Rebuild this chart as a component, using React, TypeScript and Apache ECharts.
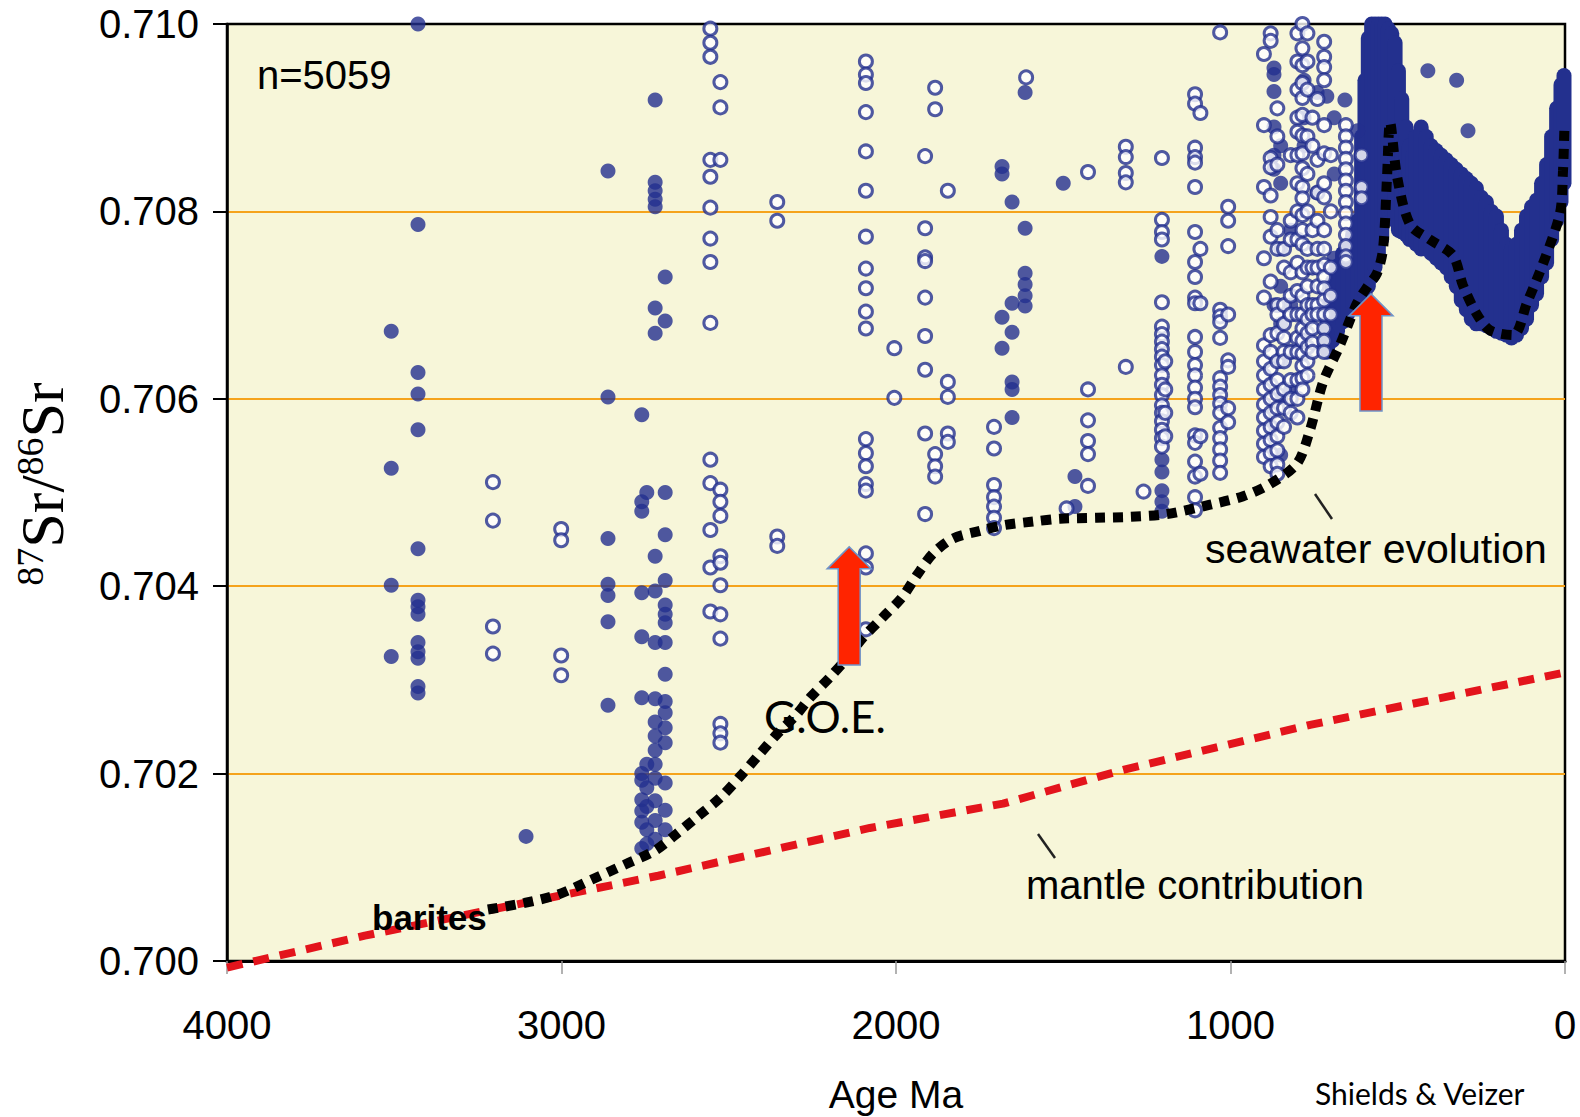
import React, { useEffect, useRef } from "react";
import * as echarts from "echarts";

const NAVY = "#23308E";
const SANS = "Liberation Sans, Arial, sans-serif";

// ---- data (age in Ma, 87Sr/86Sr) ----
const filledColumns: [number, number[]][] = [
  [3509, [0.70672, 0.70526, 0.70401, 0.70325]],
  [3429, [0.71, 0.70786, 0.70628, 0.70605, 0.70567, 0.7044, 0.70385, 0.70378, 0.7037, 0.7034, 0.7033, 0.70323, 0.70293, 0.70286]],
  [3106, [0.70133]],
  [2861, [0.70843, 0.70602, 0.70451, 0.70402, 0.7039, 0.70362, 0.70273]],
  [2760, [0.70583, 0.7049, 0.7048, 0.70393, 0.70346, 0.70281, 0.702, 0.70193, 0.70172, 0.7016, 0.70148, 0.7012]],
  [2745, [0.705, 0.7021, 0.70185, 0.70165, 0.7014, 0.70125]],
  [2720, [0.70919, 0.70831, 0.70822, 0.70813, 0.70805, 0.70697, 0.7067, 0.70432, 0.70395, 0.7034, 0.7028, 0.70255, 0.7024, 0.70225, 0.7021, 0.70195, 0.70171, 0.7015, 0.7013]],
  [2690, [0.7073, 0.70683, 0.705, 0.70455, 0.70406, 0.7038, 0.7037, 0.70361, 0.7034, 0.70306, 0.70277, 0.70265, 0.70249, 0.70233, 0.7019, 0.70161, 0.7014]],
  [1683, [0.70848, 0.7084, 0.70687, 0.70654]],
  [1653, [0.7081, 0.70702, 0.70671, 0.70618, 0.7061, 0.7058]],
  [1614, [0.70927, 0.70782, 0.70734, 0.70722, 0.7071, 0.70699]],
  [1500, [0.7083]],
  [1465, [0.70517, 0.70485]],
  [1205, [0.70752, 0.70535, 0.70522, 0.70502, 0.7049, 0.7048]],
  [880, [0.7057]],
  [870, [0.70953, 0.70946, 0.70928, 0.7089, 0.7086, 0.70845, 0.707]],
  [850, [0.7087, 0.7083, 0.7076, 0.7072, 0.7068, 0.7064, 0.706, 0.7054]],
  [820, [0.7078, 0.707, 0.7065, 0.7061]],
  [780, [0.7094, 0.709, 0.7087]],
  [741, [0.70927, 0.7082]],
  [712, [0.70923, 0.707, 0.7067]],
  [690, [0.709, 0.7084, 0.7075]],
  [658, [0.70919]],
  [620, [0.70886]],
  [610, [0.7086]],
  [410, [0.7095]],
  [324, [0.7094]],
  [290, [0.70886]],
];

const openColumns: [number, number[]][] = [
  [3205, [0.70511, 0.7047, 0.70357, 0.70328]],
  [3001, [0.70461, 0.70449, 0.70326, 0.70305]],
  [2555, [0.70995, 0.7098, 0.70965, 0.70855, 0.70837, 0.70804, 0.70771, 0.70746, 0.70681, 0.70535, 0.7051, 0.7046, 0.7042, 0.70373]],
  [2525, [0.70938, 0.70911, 0.70855, 0.70503, 0.7049, 0.70475, 0.70432, 0.70425, 0.70401, 0.7037, 0.70344, 0.70253, 0.70243, 0.70233]],
  [2355, [0.7081, 0.7079, 0.70453, 0.70443]],
  [2090, [0.7096, 0.70946, 0.70937, 0.70906, 0.70864, 0.70822, 0.70773, 0.70739, 0.70718, 0.70693, 0.70675, 0.70557, 0.70542, 0.70528, 0.70509, 0.70502, 0.70435, 0.7042, 0.70354]],
  [2005, [0.70654, 0.70601]],
  [1913, [0.70859, 0.70782, 0.70751, 0.70747, 0.70708, 0.70667, 0.70631, 0.70563, 0.70477]],
  [1883, [0.70932, 0.70909, 0.70541, 0.70528, 0.70517]],
  [1845, [0.70822, 0.70618, 0.70602, 0.70563, 0.70554]],
  [1707, [0.7057, 0.70547, 0.70508, 0.70495, 0.70485, 0.70473, 0.70462]],
  [1611, [0.70943]],
  [1490, [0.70483]],
  [1426, [0.70842, 0.7061, 0.70577, 0.70555, 0.70541, 0.70507]],
  [1313, [0.70869, 0.70858, 0.70841, 0.70831, 0.70634]],
  [1260, [0.70501]],
  [1205, [0.70857, 0.70791, 0.70778, 0.7077, 0.70703, 0.70677, 0.70669, 0.70661, 0.70653, 0.70645, 0.70636, 0.70625, 0.70615, 0.70604, 0.70593, 0.70585, 0.70576, 0.70567, 0.70558, 0.70549]],
  [1195, [0.7064, 0.7061, 0.70585, 0.7056]],
  [1106, [0.70925, 0.70915, 0.70868, 0.70858, 0.70852, 0.70826, 0.70778, 0.70746, 0.7073, 0.70708, 0.70702, 0.70666, 0.7065, 0.70636, 0.70625, 0.70612, 0.706, 0.70591, 0.70561, 0.70553, 0.70533, 0.70517, 0.70495, 0.70481]],
  [1090, [0.70905, 0.7076, 0.70702, 0.7056, 0.7052]],
  [1031, [0.70991, 0.70695, 0.70688, 0.70682, 0.70665, 0.70622, 0.70613, 0.70604, 0.70595, 0.70585, 0.70569, 0.70558, 0.70546, 0.70534, 0.70521]],
  [1007, [0.70805, 0.7079, 0.70763, 0.7069, 0.70641, 0.70634, 0.7059, 0.70575]],
  [900, [0.70968, 0.70892, 0.70826, 0.7075, 0.70708, 0.70657, 0.7064, 0.70625, 0.7061, 0.70594, 0.7058, 0.70566, 0.70552, 0.70538]],
  [880, [0.7099, 0.70982, 0.70857, 0.70847, 0.70817, 0.70794, 0.70773, 0.70725, 0.70668, 0.7065, 0.70632, 0.70615, 0.706, 0.70585, 0.7057, 0.70556, 0.70542, 0.70528]],
  [860, [0.7091, 0.7088, 0.7085, 0.7078, 0.7076, 0.707, 0.7069, 0.7067, 0.7064, 0.7062, 0.70605, 0.7059, 0.70575, 0.7056, 0.70545, 0.7053, 0.7052]],
  [840, [0.7076, 0.7074, 0.707, 0.7068, 0.70665, 0.7065, 0.7064, 0.7061, 0.7059, 0.7057]],
  [820, [0.7086, 0.7079, 0.7077, 0.70735, 0.7071, 0.7069, 0.7065, 0.7062, 0.706, 0.70585]],
  [800, [0.7099, 0.7096, 0.7093, 0.709, 0.70885, 0.7086, 0.7083, 0.708, 0.7077, 0.70745, 0.70715, 0.7069, 0.70665, 0.7065, 0.7062, 0.706, 0.7058]],
  [785, [0.71, 0.70974, 0.70956, 0.70937, 0.70921, 0.70903, 0.70881, 0.70862, 0.70846, 0.70826, 0.70814, 0.70796, 0.7078, 0.70765, 0.70735, 0.7071, 0.7069, 0.70675, 0.70662, 0.70648, 0.70635, 0.70622, 0.7061]],
  [770, [0.7099, 0.7096, 0.7093, 0.7088, 0.7084, 0.708, 0.7076, 0.7074, 0.7072, 0.707, 0.70685, 0.7067, 0.70655, 0.7064, 0.70625]],
  [755, [0.709, 0.7087, 0.7078, 0.7074, 0.707, 0.7069, 0.70675, 0.7066, 0.7065]],
  [740, [0.7092, 0.70855, 0.7082, 0.7079, 0.7076, 0.7074, 0.7072, 0.707, 0.7069]],
  [720, [0.70981, 0.70965, 0.70954, 0.7094, 0.70892, 0.70862, 0.7083, 0.70815, 0.7078, 0.7076, 0.70743, 0.7073, 0.70718, 0.70705, 0.7069, 0.70675, 0.70662, 0.7065]],
  [700, [0.7086, 0.708, 0.7074, 0.7071, 0.7069]],
  [655, [0.70892, 0.7088, 0.70868, 0.70856, 0.70845, 0.70833, 0.70822, 0.7081, 0.70798, 0.70787, 0.70775, 0.70763, 0.70752, 0.70746]],
  [608, [0.7086, 0.70826, 0.70814]],
];

// dense Phanerozoic cloud of filled symbols: [age, lowest, highest]
const phanerozoicBand: [number, number, number][] = [
  [710, 0.7065, 0.707], [695, 0.70662, 0.70725], [680, 0.70672, 0.70742], [665, 0.70682, 0.70755],
  [650, 0.7069, 0.70765], [635, 0.70698, 0.70775], [620, 0.707, 0.7079], [608, 0.70705, 0.7088],
  [598, 0.70712, 0.7094], [588, 0.7072, 0.70985], [578, 0.7073, 0.71], [568, 0.7074, 0.71],
  [558, 0.7075, 0.71], [548, 0.7077, 0.71], [538, 0.7079, 0.71], [528, 0.708, 0.70995],
  [518, 0.708, 0.7099], [508, 0.7079, 0.7098], [498, 0.7078, 0.7095], [488, 0.70778, 0.7092],
  [475, 0.70775, 0.7089], [465, 0.7077, 0.7087], [455, 0.7077, 0.7086], [445, 0.70765, 0.7088],
  [430, 0.7076, 0.7089], [415, 0.7076, 0.7088], [400, 0.70755, 0.7087], [385, 0.7075, 0.70865],
  [370, 0.70745, 0.7086], [355, 0.7074, 0.70855], [340, 0.7073, 0.7085], [325, 0.7072, 0.70845],
  [310, 0.70705, 0.7084], [295, 0.70695, 0.70835], [280, 0.70685, 0.7083], [265, 0.7068, 0.70825],
  [250, 0.7068, 0.70815], [235, 0.70678, 0.7081], [220, 0.70675, 0.708], [205, 0.70672, 0.70795],
  [190, 0.7067, 0.7078], [175, 0.70668, 0.70765], [160, 0.70665, 0.7076], [145, 0.70668, 0.70765],
  [130, 0.70675, 0.7078], [115, 0.70685, 0.70795], [100, 0.707, 0.70805], [85, 0.70712, 0.70812],
  [70, 0.7073, 0.7083], [55, 0.70745, 0.7085], [40, 0.7077, 0.7088], [25, 0.7079, 0.7091],
  [12, 0.7081, 0.70935], [3, 0.7083, 0.70945],
];

const seawaterAge = [3220, 3110, 3010, 2909, 2810, 2720, 2655, 2590, 2526, 2466, 2410, 2356, 2300, 2257, 2197, 2150, 2099, 2039, 1982, 1937, 1889, 1829, 1749, 1680, 1590, 1510, 1400, 1300, 1190, 1061, 962, 882, 801, 762, 723, 673, 622, 590, 562, 544, 532, 523, 502, 463, 404, 335, 305, 263, 224, 155, 114, 66, 15, 6, 2];
const seawaterRatio = [0.70055, 0.70062, 0.70071, 0.70087, 0.70103, 0.70118, 0.70136, 0.70155, 0.70174, 0.70197, 0.7022, 0.70242, 0.70262, 0.70281, 0.70303, 0.70322, 0.70345, 0.70367, 0.70388, 0.70412, 0.70435, 0.70451, 0.70459, 0.70465, 0.70469, 0.70472, 0.70473, 0.70474, 0.70477, 0.70487, 0.70496, 0.70509, 0.70531, 0.70567, 0.70618, 0.70657, 0.70702, 0.7072, 0.70734, 0.7076, 0.70837, 0.70895, 0.70837, 0.70786, 0.7077, 0.70753, 0.70721, 0.7069, 0.70673, 0.70668, 0.70702, 0.70744, 0.70798, 0.70843, 0.70886];

const mantleAge = [4000, 3588, 3208, 2711, 2078, 1680, 1321, 762, 0];
const mantleRatio = [0.69993, 0.70027, 0.70055, 0.70091, 0.70142, 0.70168, 0.70204, 0.70252, 0.70308];

// arrows: [age, tip ratio, base ratio]
const arrows: [number, number, number][] = [
  [2140, 0.70442, 0.70316],
  [580, 0.70712, 0.70587],
];

const toPoints = (cols: [number, number[]][]) =>
  cols.flatMap(([age, vals]) => vals.map((v) => [age, v]));

export default function App() {
  const ref = useRef<HTMLDivElement>(null);
  useEffect(() => {
    if (!ref.current) return;
    const chart = echarts.init(ref.current, undefined, { renderer: "svg" });
    const textZ = 100;
    chart.setOption({
      animation: false,
      backgroundColor: "#ffffff",
      grid: {
        left: 227,
        right: 15,
        top: 24,
        bottom: 156,
        show: true,
        backgroundColor: "#F7F6D9",
        borderColor: "#000",
        borderWidth: 2.5,
      },
      xAxis: {
        type: "value",
        inverse: true,
        min: 0,
        max: 4000,
        interval: 1000,
        axisLine: { show: true, onZero: false, lineStyle: { color: "#000", width: 3 } },
        axisTick: { show: true, length: 13, lineStyle: { color: "#999", width: 1.5 } },
        axisLabel: {
          color: "#000",
          fontSize: 40,
          fontFamily: SANS,
          margin: 44,
          formatter: (v: number) => String(Math.round(v)),
        },
        splitLine: { show: false },
      },
      yAxis: {
        type: "value",
        min: 0.7,
        max: 0.71,
        interval: 0.002,
        axisLine: { show: true, onZero: false, lineStyle: { color: "#000", width: 2.5 } },
        axisTick: { show: true, length: 14, lineStyle: { color: "#000", width: 2 } },
        axisLabel: {
          color: "#000",
          fontSize: 40,
          fontFamily: SANS,
          margin: 28,
          formatter: (v: number) => v.toFixed(3),
        },
        splitLine: {
          show: true,
          showMinLine: false,
          showMaxLine: false,
          lineStyle: { color: "#F5A31C", width: 2 },
        },
      },
      series: [
        {
          type: "custom",
          name: "band",
          z: 2,
          encode: { x: 0, y: [1, 2] },
          data: phanerozoicBand,
          renderItem: (params: any, api: any) => {
            const p1 = api.coord([api.value(0), api.value(1)]);
            const p2 = api.coord([api.value(0), api.value(2)]);
            return {
              type: "line",
              shape: { x1: p1[0], y1: p1[1], x2: p2[0], y2: p2[1] },
              style: { stroke: NAVY, lineWidth: 15, lineCap: "round" },
            };
          },
        },
        {
          type: "scatter",
          name: "filled",
          z: 3,
          symbol: "circle",
          symbolSize: 15,
          clip: false,
          itemStyle: { color: NAVY },
          data: toPoints(filledColumns),
        },
        {
          type: "scatter",
          name: "open",
          z: 4,
          symbol: "circle",
          symbolSize: 13,
          clip: false,
          itemStyle: { color: "#ffffff", borderColor: NAVY, borderWidth: 3 },
          data: toPoints(openColumns),
        },
        {
          type: "line",
          name: "mantle contribution",
          z: 5,
          clip: false,
          showSymbol: false,
          symbol: "none",
          lineStyle: { color: "#E3141C", width: 8, type: [16, 11], cap: "butt" },
          data: mantleAge.map((a, i) => [a, mantleRatio[i]]),
        },
        {
          type: "line",
          name: "seawater evolution",
          z: 6,
          clip: false,
          showSymbol: false,
          symbol: "none",
          smooth: 0.3,
          lineStyle: { color: "#000", width: 10, type: [10, 8], cap: "butt" },
          data: seawaterAge.map((a, i) => [a, seawaterRatio[i]]),
        },
        {
          type: "custom",
          name: "arrows",
          z: 7,
          encode: { x: 0, y: [1, 2] },
          data: arrows,
          renderItem: (params: any, api: any) => {
            const t = api.coord([api.value(0), api.value(1)]);
            const b = api.coord([api.value(0), api.value(2)]);
            const hw = 22, sw = 11, hl = 22;
            return {
              type: "polygon",
              shape: {
                points: [
                  [t[0], t[1]],
                  [t[0] + hw, t[1] + hl],
                  [t[0] + sw, t[1] + hl],
                  [b[0] + sw, b[1]],
                  [b[0] - sw, b[1]],
                  [t[0] - sw, t[1] + hl],
                  [t[0] - hw, t[1] + hl],
                ],
              },
              style: { fill: "#FF2400", stroke: "#6F93C8", lineWidth: 1.5 },
            };
          },
        },
      ],
      graphic: [
        {
          type: "text", z: textZ, x: 42, y: 484, rotation: Math.PI / 2,
          style: {
            text: "{s|87}{b|Sr/}{s|86}{b|Sr}",
            align: "center", textAlign: "center", verticalAlign: "middle", textVerticalAlign: "middle",
            rich: {
              b: { fontSize: 62, fontFamily: "Liberation Serif, serif", lineHeight: 62, fill: "#000", color: "#000" },
              s: { fontSize: 38, fontFamily: "Liberation Serif, serif", lineHeight: 38, verticalAlign: "top", fill: "#000", color: "#000" },
            },
          },
        },
        {
          type: "text", z: textZ, x: 257, y: 75,
          style: { text: "n=5059", fontSize: 40, fontFamily: SANS, fill: "#000", verticalAlign: "middle", textVerticalAlign: "middle" },
        },
        {
          type: "text", z: textZ, x: 372, y: 917,
          style: { text: "barites", fontSize: 35, fontWeight: "bold", fontFamily: SANS, fill: "#000", verticalAlign: "middle", textVerticalAlign: "middle" },
        },
        {
          type: "text", z: textZ, x: 764, y: 716,
          style: { text: "G.O.E.", fontSize: 44, fontFamily: "Lato, sans-serif", fill: "#000", verticalAlign: "middle", textVerticalAlign: "middle" },
        },
        {
          type: "text", z: textZ, x: 1205, y: 549,
          style: { text: "seawater evolution", fontSize: 41, fontFamily: SANS, fill: "#000", verticalAlign: "middle", textVerticalAlign: "middle" },
        },
        {
          type: "text", z: textZ, x: 1026, y: 885,
          style: { text: "mantle contribution", fontSize: 40, fontFamily: SANS, fill: "#000", verticalAlign: "middle", textVerticalAlign: "middle" },
        },
        {
          type: "line", z: textZ, shape: { x1: 1315, y1: 494, x2: 1332, y2: 519 },
          style: { stroke: "#222", lineWidth: 2.5 },
        },
        {
          type: "line", z: textZ, shape: { x1: 1038, y1: 834, x2: 1055, y2: 858 },
          style: { stroke: "#222", lineWidth: 2.5 },
        },
        {
          type: "text", z: textZ, x: 896, y: 1094,
          style: { text: "Age Ma", fontSize: 39, fontFamily: SANS, fill: "#000", align: "center", textAlign: "center", verticalAlign: "middle", textVerticalAlign: "middle" },
        },
        {
          type: "text", z: textZ, x: 1315, y: 1078,
          style: { text: "Shields & Veizer", fontSize: 30, fontFamily: "Lato, sans-serif", fill: "#000", verticalAlign: "top", textVerticalAlign: "top" },
        },
      ],
    });
    return () => chart.dispose();
  }, []);
  return (
    <div
      ref={ref}
      style={{ position: "fixed", left: 0, top: 0, width: 1580, height: 1117, background: "#fff" }}
    />
  );
}
